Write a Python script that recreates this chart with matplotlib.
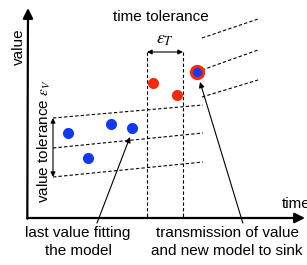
import matplotlib
matplotlib.use("Agg")
from matplotlib import pyplot as plt

plt.rcParams['font.family'] = ['Liberation Sans', 'DejaVu Sans']
plt.rcParams['mathtext.fontset'] = 'stix'

# === Data (diagram coordinates, y grows downward) ===
blue_t = [68, 111, 132, 88]
blue_v = [133, 124, 128, 158]
red_t = [153, 177]
red_v = [83, 95]
sent_t = [197]
sent_v = [72]

old_x = [53, 203]
old_upper = [118, 105]
old_mid = [148, 133]
old_lower = [177, 162]

new_x = [202, 258]
new_upper = [38, 19]
new_mid = [70, 50]
new_lower = [97, 80]

win_left, win_right = 147, 183
win_top, axis_y, axis_x = 52, 218, 28

blue = '#1438f0'
red = '#f52a0a'

fig = plt.figure(figsize=(3.07, 2.65), dpi=100)
ax = fig.add_axes([0, 0, 1, 1])
ax.set_xlim(0, 307)
ax.set_ylim(265, 0)
ax.axis('off')

dash = dict(color='black', lw=0.8, linestyle=(0, (3, 2)))

# model bands
for ys in (old_upper, old_mid, old_lower):
    ax.plot(old_x, ys, **dash)
for ys in (new_upper, new_mid, new_lower):
    ax.plot(new_x, ys, **dash)

# time window
for x in (win_left, win_right):
    ax.plot([x, x], [win_top, axis_y], **dash)
ax.annotate('', xy=(win_left, win_top), xytext=(win_right, win_top),
            arrowprops=dict(arrowstyle='<|-|>', color='black', lw=0.8,
                            mutation_scale=7, shrinkA=0, shrinkB=0))
ax.text((win_left + win_right) / 2, 40, r'$\varepsilon_T$', fontsize=13,
        ha='center', va='center')

# value tolerance arrow
ax.annotate('', xy=(old_x[0], old_upper[0]), xytext=(old_x[0], old_lower[0]),
            arrowprops=dict(arrowstyle='<|-|>', color='black', lw=0.8,
                            mutation_scale=7, shrinkA=0, shrinkB=0))
ax.text(44, 141, r'value tolerance $\varepsilon_V$', fontsize=11,
        rotation=90, ha='center', va='center')

# axes
ax.annotate('', xy=(axis_x, 8), xytext=(axis_x - 0.7, axis_y + 0.7),
            arrowprops=dict(arrowstyle='-|>', color='black', lw=1.6,
                            mutation_scale=15, shrinkA=0, shrinkB=0))
ax.annotate('', xy=(305, axis_y), xytext=(axis_x - 0.7, axis_y),
            arrowprops=dict(arrowstyle='-|>', color='black', lw=1.6,
                            mutation_scale=15, shrinkA=0, shrinkB=0))
ax.text(19, 47, 'value', fontsize=11, rotation=90, ha='center', va='center')
ax.text(282, 208, 'time', fontsize=11, ha='left', va='baseline')
ax.text(113, 17, 'time tolerance', fontsize=11, ha='left', va='center')

# points
ax.plot(blue_t, blue_v, 'o', color=blue, ms=8, mec='none')
ax.plot(red_t, red_v, 'o', color=red, ms=8, mec='none')
ax.plot(sent_t, sent_v, 'o', color=red, ms=11, mec='none')
ax.plot(sent_t, sent_v, 'o', color=blue, ms=6.5, mec='none')

# annotations
ax.annotate('last value fitting\nthe model', xy=(130, 137), xytext=(78, 242),
            fontsize=11, ha='center', va='center', linespacing=1.4,
            arrowprops=dict(arrowstyle='-|>', color='black', lw=0.8,
                            mutation_scale=8, shrinkA=0, shrinkB=0,
                            relpos=(0.67, 1.0)))
ax.annotate('transmission of value\nand new model to sink', xy=(200, 82),
            xytext=(227, 242), fontsize=11, ha='center', va='center',
            linespacing=1.4,
            arrowprops=dict(arrowstyle='-|>', color='black', lw=0.8,
                            mutation_scale=8, shrinkA=0, shrinkB=0,
                            relpos=(0.61, 1.0)))

fig.savefig('out.png', dpi=100)
